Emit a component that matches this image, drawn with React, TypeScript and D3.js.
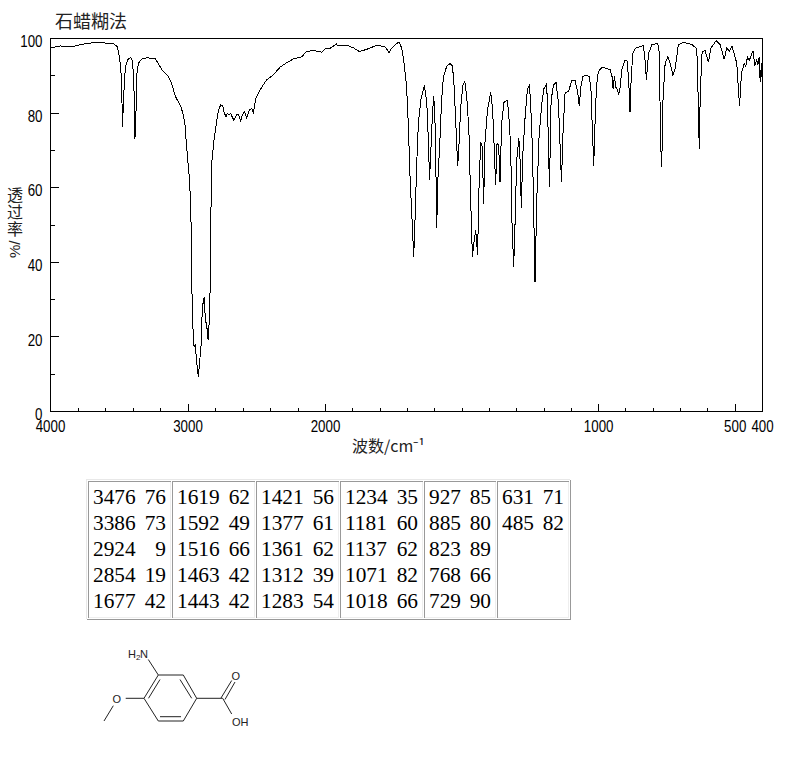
import React, { useEffect, useRef } from 'react';
import * as d3 from 'd3';

// spectrum: [wavenumber, %T]
const spectrum: [number, number][] = [
  [4000, 97.5], [3931, 98.0], [3846, 97.8], [3761, 98.5], [3664, 99.0], [3543, 98.6], [3514, 97.8], [3499, 95.1],
  [3488, 91.6], [3480, 82.6], [3476, 76.3], [3471, 81.7], [3461, 89.8], [3451, 92.9], [3435, 94.5], [3415, 94.9],
  [3403, 93.8], [3395, 88.9], [3388, 79.9], [3386, 73], [3378, 80.8], [3371, 90.7], [3361, 93.3], [3337, 94.5],
  [3301, 94.8], [3240, 94.7], [3216, 93.3], [3187, 91.4], [3143, 89.9], [3119, 88], [3095, 84.8], [3082, 83.8],
  [3053, 81.9], [3034, 79.5], [3022, 76.8], [3010, 71], [2993, 63.8], [2983, 57.6], [2976, 47.8], [2973, 35.3],
  [2966, 23.6], [2956, 17.4], [2947, 17.8], [2937, 13.4], [2925, 9.3], [2915, 13.4], [2905, 17.8], [2898, 25.4],
  [2888, 30.3], [2881, 30.5], [2874, 24.5], [2864, 23.2], [2854, 19.2], [2845, 24.5], [2837, 35.7], [2835, 48.7],
  [2828, 66.5], [2811, 72.8], [2792, 77.7], [2780, 80.4], [2763, 82.2], [2748, 82.1], [2739, 80.4], [2724, 79],
  [2714, 79.9], [2700, 79.5], [2690, 79.9], [2666, 78], [2646, 79.5], [2632, 79.7], [2617, 77.9], [2605, 79.5],
  [2588, 80.4], [2573, 78.6], [2554, 80.8], [2537, 81.3], [2525, 80.1], [2506, 84], [2465, 86.9], [2428, 88.9],
  [2380, 90.2], [2331, 92.3], [2283, 93.5], [2234, 94.5], [2174, 95.1], [2137, 96.5], [2101, 96.7], [2040, 96.6],
  [2028, 96.2], [2004, 97.2], [1984, 97.3], [1971, 98], [1959, 98.6], [1957, 98.1], [1922, 98.2], [1898, 97.5],
  [1876, 96.5], [1849, 97.1], [1812, 98.2], [1782, 97.8], [1767, 96.2], [1758, 97.4], [1739, 98.7], [1730, 99],
  [1721, 97.4], [1712, 93.3], [1703, 87.1], [1697, 77.3], [1690, 62], [1683, 51.3], [1677, 41.5], [1673, 49.5],
  [1666, 66.5], [1660, 77.3], [1651, 83.5], [1638, 87.5], [1629, 82.6], [1623, 71.9], [1619, 62.2], [1613, 71.9],
  [1609, 79], [1604, 84.6], [1600, 80.8], [1596, 66.5], [1593, 49.1], [1588, 63], [1581, 72.8], [1575, 83.5],
  [1568, 89.8], [1556, 92.6], [1544, 93.3], [1535, 92.6], [1529, 87.1], [1523, 77.3], [1516, 65.8], [1511, 71.9],
  [1505, 81.7], [1497, 87.5], [1490, 88.4], [1483, 84.4], [1475, 75.5], [1471, 63.8], [1466, 50.4], [1462, 41.5],
  [1457, 45.1], [1450, 48.7], [1443, 42], [1439, 57.6], [1432, 72.3], [1426, 71], [1421, 55.6], [1416, 72.3],
  [1407, 80.8], [1395, 85.6], [1388, 80.8], [1383, 71.9], [1377, 60.7], [1372, 71.9], [1366, 71.4], [1361, 61.6],
  [1355, 77.3], [1346, 83.1], [1335, 83.3], [1330, 80.8], [1322, 71], [1317, 50.4], [1311, 38.8], [1306, 50.4],
  [1300, 67.4], [1292, 73.2], [1288, 68.3], [1283, 54.5], [1278, 68.3], [1270, 78.1], [1261, 86.2], [1253, 87.7],
  [1245, 76.4], [1239, 59.4], [1233, 34.6], [1226, 57.6], [1218, 73.7], [1208, 82.6], [1200, 86.6], [1190, 87.8],
  [1185, 75.5], [1180, 60.1], [1174, 83.5], [1165, 87.5], [1156, 88.3], [1147, 82.6], [1141, 71], [1136, 61.6],
  [1130, 75.5], [1123, 85.3], [1110, 85.9], [1098, 88.7], [1086, 88.7], [1077, 85.7], [1071, 82], [1065, 87.1],
  [1058, 89.8], [1049, 90.2], [1034, 89.8], [1028, 86.2], [1023, 75.5], [1020, 70.1], [1018, 65.9], [1014, 75.5],
  [1008, 87.1], [1001, 91.1], [988, 92.3], [958, 91.7], [951, 89.8], [947, 86.6], [942, 89.8], [937, 86.9],
  [931, 86.2], [927, 84.9], [921, 87.1], [915, 91.6], [905, 94], [896, 94], [890, 88.9], [885, 80.2],
  [881, 88.9], [875, 96], [866, 97.4], [836, 98.1], [831, 95.1], [825, 89], [817, 96], [805, 98.3],
  [784, 98.7], [777, 96], [774, 73.7], [769, 65.5], [764, 84.4], [756.5, 93.3], [747, 95.1], [738, 93.3],
  [728, 90.2], [720, 92], [708, 98.3], [689, 99], [659, 98.4], [643, 97.4], [638, 94.2], [634, 76.4],
  [631, 70.4], [628, 85.3], [621, 96.5], [610, 96.7], [598, 93.6], [589, 97.4], [570, 99.4], [555, 98.3],
  [540, 94.4], [531, 97.4], [521, 96.7], [512, 98], [504, 96], [494, 93.3], [488, 86.2], [484, 81.9],
  [477, 90.7], [467, 93.3], [461, 92.5], [455, 95.1], [448, 94.2], [435, 96.7], [428, 92.9], [421, 94.2],
  [417, 92.9], [412, 95], [408.5, 88.4], [403.6, 93.3], [401, 88],
];

const xMajor = [4000, 3000, 2000, 1000, 500, 400];
const xMinor = [3800, 3600, 3400, 3200, 2800, 2600, 2400, 2200, 1900, 1800, 1700, 1600, 1500, 1400, 1300, 1200, 1100, 900, 800, 700, 600];
const yMajor = [0, 20, 40, 60, 80, 100];
const yMinor = [10, 30, 50, 70, 90];

const peakWave = [
  [3476, 3386, 2924, 2854, 1677],
  [1619, 1592, 1516, 1463, 1443],
  [1421, 1377, 1361, 1312, 1283],
  [1234, 1181, 1137, 1071, 1018],
  [927, 885, 823, 768, 729],
  [631, 485],
];
const peakPct = [
  [76, 73, 9, 19, 42],
  [62, 49, 66, 42, 42],
  [56, 61, 62, 39, 54],
  [35, 60, 62, 82, 66],
  [85, 80, 89, 66, 90],
  [71, 82],
];

const x = d3.scaleLinear().domain([4000, 2000, 400]).range([50.5, 325.5, 762.5]);
const y = d3.scaleLinear().domain([0, 100]).range([411.5, 38.5]);

const tableEdges = [88, 172, 256, 340, 424, 497, 570];
const rowBase = [504, 530, 556, 582, 608];

const tickFont = '"Liberation Sans", sans-serif';
const cjk = '"Noto Sans CJK SC", sans-serif';

// structure drawing, in page pixels
const bonds = [
  [158.3, 675, 183.3, 675], [183.3, 675, 196.7, 698.3], [196.7, 698.3, 183.3, 721],
  [183.3, 721, 158.3, 721], [158.3, 721, 144, 698.3], [144, 698.3, 158.3, 675],
  [160, 679.5, 148.5, 698.3], [180, 679.5, 191.7, 698.3], [160, 716.7, 181, 716.7],
  [158.3, 675, 148.3, 659.5], [144, 698.3, 125.7, 698.3], [113.3, 705.7, 104, 721],
  [196.7, 698.3, 222.7, 698.3], [221, 698, 231.7, 680.5], [225, 699.5, 235, 682],
  [222.7, 698.3, 231.7, 714],
];

const App = () => {
  const axesRef = useRef<SVGGElement>(null);

  useEffect(() => {
    const g = d3.select(axesRef.current);
    g.selectAll('*').remove();

    const xAxis = d3.axisBottom(x).tickValues(xMajor).tickFormat(d3.format('d') as any)
      .tickSizeInner(-8).tickSizeOuter(0).tickPadding(9).offset(0);
    const xMinorAxis = d3.axisBottom(x).tickValues(xMinor).tickFormat(() => '')
      .tickSizeInner(-4).tickSizeOuter(0).offset(0);
    const yAxis = d3.axisLeft(y).tickValues(yMajor).tickFormat(d3.format('d') as any)
      .tickSizeInner(-8).tickSizeOuter(0).tickPadding(8).offset(0);
    const yMinorAxis = d3.axisLeft(y).tickValues(yMinor).tickFormat(() => '')
      .tickSizeInner(-4).tickSizeOuter(0).offset(0);

    g.append('g').attr('transform', 'translate(0,411.5)').call(xMinorAxis);
    g.append('g').attr('transform', 'translate(50.5,0)').call(yMinorAxis);
    const gx = g.append('g').attr('transform', 'translate(0,411.5)').call(xAxis);
    const gy = g.append('g').attr('transform', 'translate(50.5,0)').call(yAxis);

    gx.selectAll('text').attr('y', 9).attr('dy', '0.71em');
    gy.selectAll('text').attr('dy', '0.54em');
    g.selectAll('text')
      .attr('font-family', tickFont).attr('font-size', 16).attr('fill', '#000')
      .attr('lengthAdjust', 'spacingAndGlyphs')
      .attr('textLength', function () { return (this as SVGTextElement).textContent ? (this as SVGTextElement).textContent!.length * 7.4 : null; });
    g.selectAll('line, path').attr('stroke', '#000').attr('shape-rendering', 'crispEdges');
  }, []);

  const line = d3.line<[number, number]>().x(d => x(d[0])).y(d => y(d[1]));

  return (
    <svg width={794} height={765} style={{ position: 'absolute', left: 0, top: 0, background: '#fff' }}>
      <text x={55} y={28} fontFamily={cjk} fontSize={18} fill="#222">石蜡糊法</text>

      <rect x={50.5} y={38.5} width={712} height={373} fill="none" stroke="#000" shapeRendering="crispEdges" />
      <g ref={axesRef} />
      <path d={line(spectrum) ?? ''} fill="none" stroke="#000" strokeWidth={1} shapeRendering="crispEdges" />

      <text x={15} y={187} fontFamily={cjk} fontSize={16} fill="#222"
        style={{ writingMode: 'vertical-rl', textOrientation: 'upright', letterSpacing: '1px' }}>透过率</text>
      <text transform="translate(20,258) rotate(-90)" fontFamily={tickFont} fontSize={15} fill="#222">%/</text>
      <text x={352} y={452} fontFamily={cjk} fontSize={16} fill="#222">波数/cm⁻¹</text>

      {/* peak table */}
      <path d="M86.5 619V479.5H570" fill="none" stroke="#e8e8e8" shapeRendering="crispEdges" />
      <path d="M570.5 480V619.5H87" fill="none" stroke="#999" shapeRendering="crispEdges" />
      {tableEdges.slice(0, -1).map((left, i) => {
        const right = tableEdges[i + 1] - 1.5;
        return (
          <g key={left} fill="none" shapeRendering="crispEdges">
            <path d={`M${left + 0.5} 617.5V481.5H${right}`} stroke="#999" />
            <path d={`M${right} 481.5V617.5H${left + 0.5}`} stroke="#eee" />
          </g>
        );
      })}
      <g fontFamily='"Liberation Serif", serif' fontSize={21.33} fill="#000">
        {peakWave.map((col, c) => col.map((w, r) => (
          <g key={w}>
            <text x={tableEdges[c] + 5} y={rowBase[r]}>{w}</text>
            <text x={tableEdges[c + 1] - 6} y={rowBase[r]} textAnchor="end">{peakPct[c][r]}</text>
          </g>
        )))}
      </g>

      {/* structure */}
      <g stroke="#222" strokeWidth={1}>
        {bonds.map((b, i) => <line key={i} x1={b[0]} y1={b[1]} x2={b[2]} y2={b[3]} />)}
      </g>
      <g fontFamily='"Liberation Sans", sans-serif' fontSize={11} fill="#222">
        <text x={128} y={658}>H</text>
        <text x={136} y={660} fontSize={8}>2</text>
        <text x={140} y={658}>N</text>
        <text x={112.5} y={703}>O</text>
        <text x={231.5} y={680}>O</text>
        <text x={232} y={726}>OH</text>
      </g>
    </svg>
  );
};

export default App;
